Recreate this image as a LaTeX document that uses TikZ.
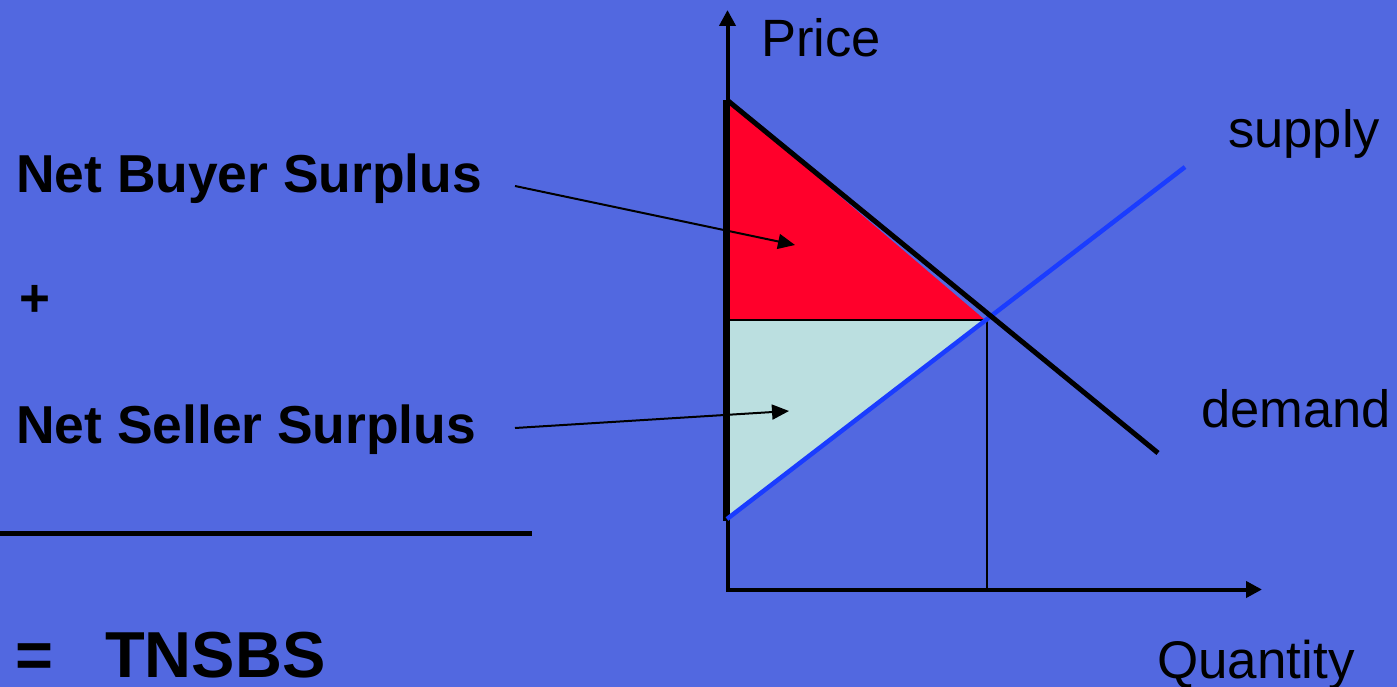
\documentclass[tikz,border=0pt]{standalone}
\usepackage{fontspec}
\setmainfont{Liberation Sans}
\usetikzlibrary{arrows.meta}
\definecolor{bg}{RGB}{82,104,224}
\definecolor{cs}{RGB}{255,0,43}
\definecolor{ps}{RGB}{187,223,224}
\definecolor{sup}{RGB}{26,60,255}
\begin{document}
\begin{tikzpicture}[x=1pt,y=-1pt,
  boldlbl/.style={font=\fontsize{53.4}{60}\selectfont\bfseries, inner sep=0, anchor=base west},
  axlbl/.style={font=\fontsize{52.5}{60}\selectfont, inner sep=0, anchor=base west},
  tipline/.style={line width=2pt, -{Triangle[length=17pt,width=15pt]}},
  axisline/.style={line width=4pt, -{Triangle[length=16pt,width=16pt]}}]
\useasboundingbox (0,0) rectangle (1397,687);
\fill[bg] (0,0) rectangle (1397,687);
% coordinates
\coordinate (O) at (727.5,592);
\coordinate (Ytop) at (727.5,10);
\coordinate (Ox) at (726,589.5);
\coordinate (Xend) at (1262,589.5);
\coordinate (D0) at (727,100);
\coordinate (D1) at (1158,453);
\coordinate (S0) at (727,519);
\coordinate (S1) at (1185,167);
\coordinate (E) at (985,320);
\coordinate (P) at (727,320);
\coordinate (Ev) at (987,320);
\coordinate (Eq) at (987,589.5);
\coordinate (B0) at (726.5,100);
\coordinate (B1) at (726.5,521);
% areas
\fill[cs] (D0) -- (E) -- (P) -- cycle;
\fill[ps] (P) -- (E) -- (S0) -- cycle;
\draw[line width=2pt] (P) -- (E);
\draw[line width=2pt] (Ev) -- (Eq);
% axes
\draw[axisline] (O) -- (Ytop);
\draw[axisline] (Ox) -- (Xend);
\draw[line width=7pt] (B0) -- (B1);
% curves
\draw[sup, line width=4.5pt] (S0) -- (S1);
\draw[line width=5pt] (D0) -- (D1);
% axis labels
\node[axlbl] (price) at (761,57) {Price};
\node[axlbl] (supply) at (1228,148) {supply};
\node[axlbl] (demand) at (1201,427) {demand};
\node[axlbl, font=\fontsize{53}{60}\selectfont] (quantity) at (1157,678) {Quantity};
% left text
\node[boldlbl] (nbs) at (16,193) {Net Buyer Surplus};
\node[font=\fontsize{53}{60}\selectfont\bfseries, inner sep=0] (plus) at (34.5,301) {+};
\node[boldlbl] (nss) at (16,443) {Net Seller Surplus};
\coordinate (R0) at (0,533);
\coordinate (R1) at (532,533);
\draw[line width=5pt] (R0) -- (R1);
\node[boldlbl, font=\fontsize{65}{70}\selectfont\bfseries] (tot) at (15,677) {=\hspace{52pt}TNSBS};
% pointer arrows
\coordinate (a0) at (515,186);
\coordinate (a1) at (795,245);
\coordinate (b0) at (515,428);
\coordinate (b1) at (789,411);
\draw[tipline] (a0) -- (a1);
\draw[tipline] (b0) -- (b1);
\end{tikzpicture}
\end{document}
